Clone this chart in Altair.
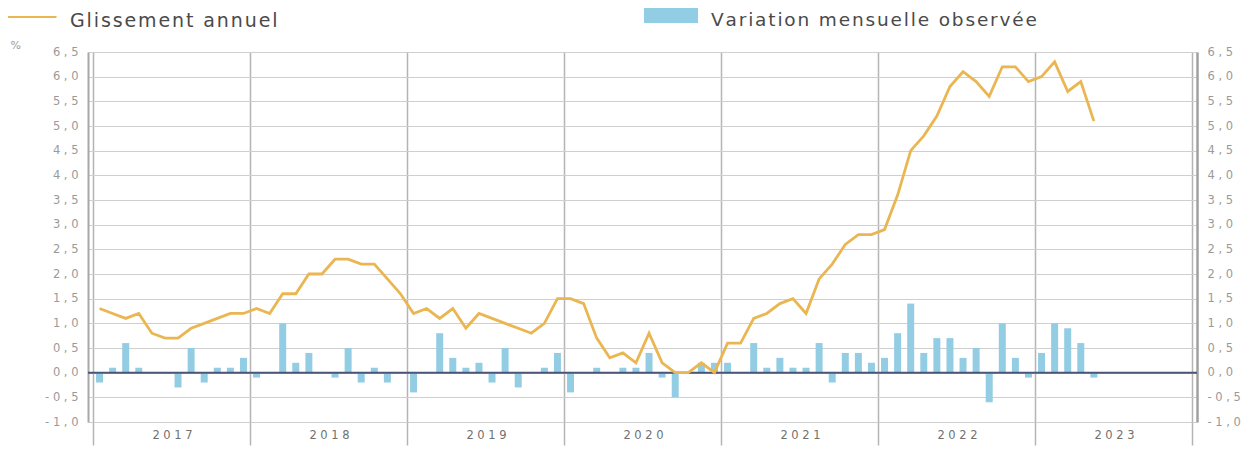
import altair as alt
import pandas as pd

start_year = 2017
years = [2017, 2018, 2019, 2020, 2021, 2022, 2023, 2024]

# Glissement annuel (%), monthly from Jan 2017 to May 2023
yoy = [
    1.3, 1.2, 1.1, 1.2, 0.8, 0.7, 0.7, 0.9, 1.0, 1.1, 1.2, 1.2,
    1.3, 1.2, 1.6, 1.6, 2.0, 2.0, 2.3, 2.3, 2.2, 2.2, 1.9, 1.6,
    1.2, 1.3, 1.1, 1.3, 0.9, 1.2, 1.1, 1.0, 0.9, 0.8, 1.0, 1.5,
    1.5, 1.4, 0.7, 0.3, 0.4, 0.2, 0.8, 0.2, 0.0, 0.0, 0.2, 0.0,
    0.6, 0.6, 1.1, 1.2, 1.4, 1.5, 1.2, 1.9, 2.2, 2.6, 2.8, 2.8,
    2.9, 3.6, 4.5, 4.8, 5.2, 5.8, 6.1, 5.9, 5.6, 6.2, 6.2, 5.9,
    6.0, 6.3, 5.7, 5.9, 5.1,
]

# Variation mensuelle observée (%)
mom = [
    -0.2, 0.1, 0.6, 0.1, 0.0, 0.0, -0.3, 0.5, -0.2, 0.1, 0.1, 0.3,
    -0.1, 0.0, 1.0, 0.2, 0.4, 0.0, -0.1, 0.5, -0.2, 0.1, -0.2, 0.0,
    -0.4, 0.0, 0.8, 0.3, 0.1, 0.2, -0.2, 0.5, -0.3, 0.0, 0.1, 0.4,
    -0.4, 0.0, 0.1, 0.0, 0.1, 0.1, 0.4, -0.1, -0.5, 0.0, 0.2, 0.2,
    0.2, 0.0, 0.6, 0.1, 0.3, 0.1, 0.1, 0.6, -0.2, 0.4, 0.4, 0.2,
    0.3, 0.8, 1.4, 0.4, 0.7, 0.7, 0.3, 0.5, -0.6, 1.0, 0.3, -0.1,
    0.4, 1.0, 0.9, 0.6, -0.1,
]

y_ticks = [-1.0, -0.5, 0.0, 0.5, 1.0, 1.5, 2.0, 2.5, 3.0, 3.5, 4.0, 4.5, 5.0, 5.5, 6.0, 6.5]

LINE_NAME = "Glissement annuel"
BAR_NAME = "Variation mensuelle observée"

df = pd.DataFrame({
    "t": [start_year + (i + 0.5) / 12 for i in range(len(yoy))],
    "yoy": yoy,
    "mom": mom,
    "s_line": LINE_NAME,
    "s_bar": BAR_NAME,
})

FONT = "DejaVu Sans"
GOLD = "#eab652"
BLUE = "#93cde4"
AX_COL = "#9a9a9a"
Y_LABEL_EXPR = ("join(split(replace(replace(format(datum.value, '.1f'), '.', ','), "
                "'\u2212', '-'), ''), ' ')")
X_LABEL_EXPR = "datum.value < 2024 ? join(split(toString(datum.value), ''), ' ') : ''"
LEGEND_LABEL_EXPR = "join(split(datum.label, ''), '\u200a')"

x_scale = alt.Scale(domain=[2017, 2024], nice=False, zero=False)
y_scale = alt.Scale(domain=[-1.0, 6.5], nice=False, zero=False)

x_axis = alt.Axis(
    values=years, title=None, grid=True, gridColor="#b4b4b4", gridWidth=1.5,
    ticks=True, tickSize=23, tickColor="#b4b4b4", tickWidth=1.5, domain=False,
    labelExpr=X_LABEL_EXPR,
    labelOffset=79, labelPadding=-16, labelFont=FONT, labelFontSize=11.5,
    labelColor="#707070", labelFlush=False, labelOverlap=False, labelBound=False,
)

left_axis = alt.Axis(
    values=y_ticks, orient="left", title="%", titleAngle=0, titleX=-78, titleY=-2,
    titleAlign="left", titleBaseline="bottom", titleFont=FONT, titleFontSize=11,
    titleFontWeight="normal", titleColor=AX_COL,
    grid=True, gridColor="#cfcfcf", gridWidth=1, ticks=False,
    domain=True, domainColor="#a8a8a8", domainWidth=2,
    labelExpr=Y_LABEL_EXPR, labelPadding=10, labelFont=FONT, labelFontSize=11.5,
    labelColor=AX_COL,
)

right_axis = alt.Axis(
    values=y_ticks, orient="right", title=None, grid=False, ticks=False,
    domain=True, domainColor="#a0a0a0", domainWidth=2.5,
    labelExpr=Y_LABEL_EXPR, labelPadding=10, labelFont=FONT, labelFontSize=11.5,
    labelColor=AX_COL,
)

bars = alt.Chart(df).mark_bar(size=7).encode(
    x=alt.X("t:Q", scale=x_scale, axis=x_axis),
    y=alt.Y("mom:Q", scale=y_scale, axis=left_axis),
    fill=alt.Fill("s_bar:N", scale=alt.Scale(domain=[BAR_NAME], range=[BLUE]),
                  legend=alt.Legend(
                      title=None, orient="none", legendX=573, legendY=-42,
                      symbolType="M-2.7,-1.2H2.7V0.3H-2.7Z", symbolSize=400,
                      symbolStrokeWidth=0, labelFont=FONT, labelFontSize=18.5,
                      labelExpr=LEGEND_LABEL_EXPR,
                      labelColor="#4a4a4a", labelOffset=30, labelLimit=700)),
)

zero = alt.Chart(pd.DataFrame({"z": [0.0]})).mark_rule(color="#4b5577", strokeWidth=2).encode(
    y=alt.Y("z:Q", scale=y_scale, axis=None),
)

line = alt.Chart(df).mark_line(strokeWidth=2.8).encode(
    x=alt.X("t:Q", scale=x_scale),
    y=alt.Y("yoy:Q", scale=y_scale, axis=right_axis),
    stroke=alt.Stroke("s_line:N", scale=alt.Scale(domain=[LINE_NAME], range=[GOLD]),
                      legend=alt.Legend(
                          title=None, orient="none", legendX=-70, legendY=-42,
                          symbolType="M-2.75,-0.4H2.75", symbolSize=400, symbolStrokeWidth=2,
                          labelFont=FONT, labelFontSize=19, labelColor="#4a4a4a",
                          labelExpr=LEGEND_LABEL_EXPR,
                          labelOffset=30, labelLimit=700)),
)

chart = alt.layer(bars, zero, line).resolve_scale(y="independent").resolve_axis(y="independent").properties(
    width=1109, height=370,
    autosize=alt.AutoSizeParams(type="none"),
    padding={"left": 80, "top": 44, "right": 45, "bottom": 24},
).configure_view(stroke=None)

chart.save("out.html", embed_options={"renderer": "svg", "actions": False})
